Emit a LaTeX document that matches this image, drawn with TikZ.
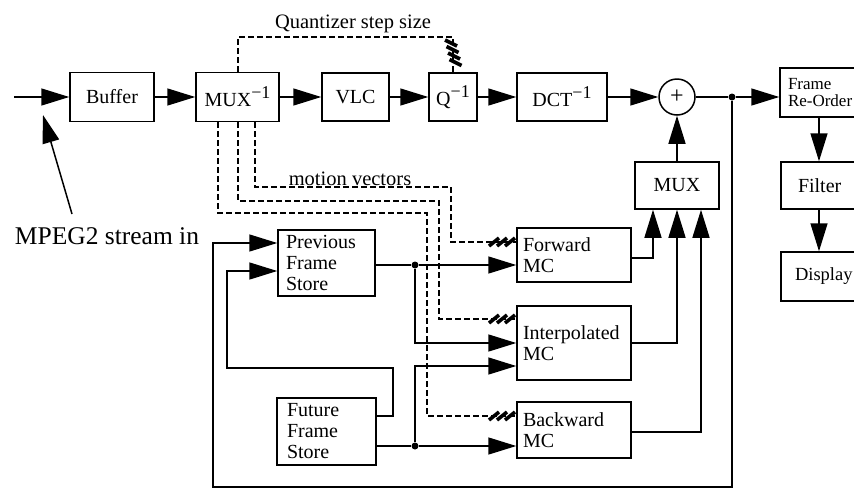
\documentclass[tikz,border=0pt]{standalone}
\usepackage{fontspec}
\setmainfont{Liberation Serif}
\usetikzlibrary{arrows.meta,calc}
\newcommand{\supx}[1]{\raisebox{8pt}{\fontsize{18}{18}\selectfont #1}}
\begin{document}
\begin{tikzpicture}[x=1pt,y=-1pt,
  box/.style={draw, line width=1.5pt, inner sep=0pt, font=\fontsize{20}{21}\selectfont},
  lbox/.style={box, align=left},
  ln/.style={line width=1.5pt},
  arr/.style={line width=1.5pt, -{Triangle[length=28pt,width=17pt]}},
  dsh/.style={line width=1.4pt, dash pattern=on 6pt off 3pt},
  hatch/.style={line width=3.6pt},
  dot/.style={circle, fill, inner sep=0pt, minimum size=7pt},
  lbl/.style={font=\fontsize{20.5}{22}\selectfont, inner sep=0pt}]
\useasboundingbox (0,0) rectangle (854,488);

% main row
\node[box, minimum width=84pt, minimum height=49pt] (buffer) at (112,97) {Buffer};
\node[box, minimum width=83pt, minimum height=49pt] (mux1) at (237.5,97) {MUX\supx{−1}};
\node[box, minimum width=67pt, minimum height=48pt] (vlc) at (355.5,97) {VLC};
\node[box, minimum width=48pt, minimum height=48pt] (q) at (453,97) {Q\supx{−1}};
\node[box, minimum width=90pt, minimum height=48pt] (dct) at (562,97) {DCT\supx{−1}};
\node[box, circle, minimum size=36pt, font=\fontsize{24}{24}\selectfont] (sum) at (677,97) {+};
\node[dot] (j0) at (732,97) {};
\node[lbox, font=\fontsize{17}{17}\selectfont, text width=72pt, inner xsep=8pt, minimum height=49pt] (reorder) at (824,92.5) {Frame\\Re-Order};
\node[lbox, text width=60pt, inner xsep=17pt, minimum height=47pt] (filter) at (828,185.5) {Filter};
\node[lbox, font=\fontsize{18.5}{20}\selectfont, text width=66pt, inner xsep=14pt, minimum height=49pt] (display) at (828,276.5) {Display};
\node[box, minimum width=84pt, minimum height=47pt] (mux2) at (677,185.5) {MUX};

% stores and MC blocks
\node[lbox, text width=81pt, inner xsep=8pt, minimum height=66pt] (prev) at (326.5,263) {Previous\\Frame\\Store};
\node[lbox, text width=79pt, inner xsep=10pt, minimum height=67pt] (future) at (326.5,431.5) {Future\\Frame\\Store};
\node[lbox, text width=102pt, inner xsep=6pt, minimum height=54pt] (fwd) at (574,255) {Forward\\MC};
\node[lbox, text width=102pt, inner xsep=6pt, minimum height=74pt] (interp) at (574,343) {Interpolated\\MC};
\node[lbox, text width=102pt, inner xsep=6pt, minimum height=56pt] (bwd) at (574,430) {Backward\\MC};

% labels
\node[lbl, anchor=base] (qlabel) at (353,28) {Quantizer step size};
\node[lbl, anchor=base] (mvlabel) at (350,185) {motion vectors};
\node[font=\fontsize{25.5}{27}\selectfont, inner sep=0pt, anchor=base] (mpeg) at (107,244) {MPEG2 stream in};

% input
\coordinate (in) at (14,97);
\coordinate (ls) at (72,214);
\coordinate (lt) at (43,115);
\draw[arr] (in) -- (buffer.west);
\draw[arr] (ls) -- (lt);

% main chain
\draw[arr] (buffer.east) -- (mux1.west);
\draw[arr] (mux1.east) -- (vlc.west);
\draw[arr] (vlc.east) -- (q.west);
\draw[arr] (q.east) -- (dct.west);
\draw[arr] (dct.east) -- (sum.west);
\draw[ln] (sum.east) -- (j0);
\draw[arr] (j0) -- (j0 -| reorder.west);
\coordinate (fx) at (819,0);
\draw[arr] (reorder.south -| fx) -- (filter.north -| fx);
\draw[arr] (filter.south -| fx) -- (display.north -| fx);
\draw[arr] (mux2.north) -- (sum.south);

% MC outputs to MUX
\draw[arr] ([yshift=-3pt]fwd.east) -| ([xshift=-24pt]mux2.south);
\draw[arr] (interp.east) -| (mux2.south);
\draw[arr] ([yshift=-2pt]bwd.east) -| ([xshift=24pt]mux2.south);

% feedback loop
\coordinate (b1) at (732,487);
\coordinate (b2) at (213,487);
\coordinate (b3) at (213,243);
\draw[arr] (j0) -- (b1) -- (b2) -- (b3) -- (b3 -| prev.west);

% future -> previous loop
\coordinate (f1) at (393,416);
\coordinate (f2) at (393,368);
\coordinate (f3) at (227,368);
\coordinate (f4) at (227,271);
\draw[arr] ([yshift=15.5pt]future.east) -- (f1) -- (f2) -- (f3) -- (f4) -- (f4 -| prev.west);

% store outputs
\node[dot] (j1) at (415,265) {};
\node[dot] (j2) at (415,446) {};
\draw[ln] ([yshift=-2pt]prev.east) -- (j1);
\draw[arr] (j1) -- (j1 -| fwd.west);
\draw[arr] (j1) |- (interp.west);
\draw[ln] ([yshift=-14.5pt]future.east) -- (j2);
\draw[arr] (j2) -- (j2 -| bwd.west);
\draw[arr] (j2) |- ([yshift=-23pt]interp.west);

% quantizer step size (dashed)
\coordinate (q1) at (238,37);
\coordinate (q2) at (453,37);
\draw[dsh] ([xshift=0.5pt]mux1.north) -- (q1) -- (q2) -- (q.north);
\foreach \i in {0,1,2,3}
  \draw[hatch] ($(445,40)+(1.5*\i,6.5*\i)$) -- ++(12,6);

% motion vectors (dashed)
\coordinate (m1a) at (255,187);
\coordinate (m1b) at (451,187);
\coordinate (m1c) at (451,242);
\draw[dsh] ([xshift=17.5pt]mux1.south) -- (m1a) -- (m1b) -- (m1c) -- (m1c -| fwd.west);
\coordinate (m2a) at (238,201);
\coordinate (m2b) at (439,201);
\coordinate (m2c) at (439,319);
\draw[dsh] ([xshift=0.5pt]mux1.south) -- (m2a) -- (m2b) -- (m2c) -- (m2c -| interp.west);
\coordinate (m3a) at (218,213);
\coordinate (m3b) at (427,213);
\coordinate (m3c) at (427,416);
\draw[dsh] ([xshift=-19.5pt]mux1.south) -- (m3a) -- (m3b) -- (m3c) -- (m3c -| bwd.west);
\foreach \yy in {242,319,416}
  \foreach \xx in {494,502,510}
    \draw[hatch] (\xx-5,\yy+4) -- (\xx+5,\yy-4);
\end{tikzpicture}
\end{document}
